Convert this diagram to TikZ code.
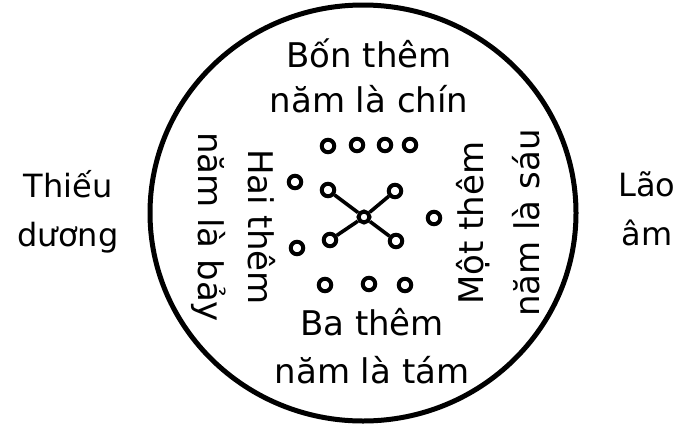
\documentclass[tikz,border=0pt]{standalone}
\usepackage{fontspec}
\setmainfont{DejaVu Sans}
\begin{document}
\begin{tikzpicture}[x=1pt,y=-1pt,
  lbl/.style={font=\fontsize{34}{#1}\selectfont, align=center, inner sep=0pt, text height=23pt, text depth=0pt},
  outer/.style={font=\fontsize{32}{49}\selectfont, align=center, inner sep=0pt, text height=22pt, text depth=0pt},
  dot/.style={circle, draw, line width=4pt, minimum size=12.5pt, inner sep=0pt, fill=white},
  link/.style={line width=3.6pt}]
\useasboundingbox (0,0) rectangle (679,426);
\draw[line width=5pt] (363,213) ellipse [x radius=213, y radius=208];
% labels
\node[lbl=45] (top) at (369,100.5) {Bốn thêm\\năm là chín};
\node[lbl=48] (bot) at (372,371.5) {Ba thêm\\năm là tám};
\node[lbl=50, rotate=-90] (left) at (209.5,227) {Hai thêm\\năm là bảy};
\node[lbl=56, rotate=90] (right) at (527.5,223) {Một thêm\\năm là sáu};
\node[outer] (tdu) at (68,235) {Thiếu\\dương};
\node[outer] (lao) at (647,234) {Lão\\âm};
% dots
\node[dot] (t1) at (328,146) {};
\node[dot] (t2) at (357,145) {};
\node[dot] (t3) at (385,145) {};
\node[dot] (t4) at (410,145) {};
\node[dot] (l1) at (295,182) {};
\node[dot] (l2) at (297,248) {};
\node[dot] (r1) at (434,218) {};
\node[dot] (b1) at (325,285) {};
\node[dot] (b2) at (369,284) {};
\node[dot] (b3) at (405,285) {};
\node[dot, minimum size=11pt] (c) at (364,217) {};
\node[dot] (x1) at (328,190) {};
\node[dot] (x2) at (395,191) {};
\node[dot] (x3) at (330,240) {};
\node[dot] (x4) at (396,241) {};
\draw[link] (c) -- (x1);
\draw[link] (c) -- (x2);
\draw[link] (c) -- (x3);
\draw[link] (c) -- (x4);
\end{tikzpicture}
\end{document}
